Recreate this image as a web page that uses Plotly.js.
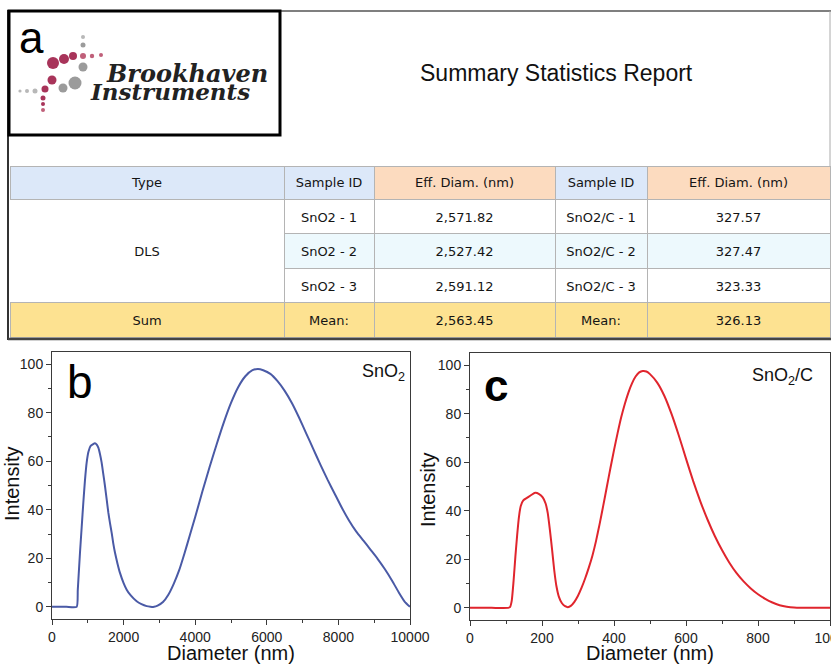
<!DOCTYPE html>
<html>
<head>
<meta charset="utf-8">
<script src="https://cdn.plot.ly/plotly-3.0.1.min.js"></script>
<style>html,body{margin:0;padding:0;background:#fff;}#chart{width:831px;height:664px;}</style>
</head>
<body>
<div id="chart"></div>
<script>
// ---------------- data ----------------
const reportTitle = 'Summary Statistics Report';
const headerLabels = ['Type', 'Sample ID', 'Eff. Diam. (nm)', 'Sample ID', 'Eff. Diam. (nm)'];
const measurementType = 'DLS';
const sumLabel = 'Sum';
const meanLabel = 'Mean:';
const sampleIdsSnO2 = ['SnO2 - 1', 'SnO2 - 2', 'SnO2 - 3'];
const effDiamSnO2 = [2571.82, 2527.42, 2591.12];
const meanSnO2 = 2563.45;
const sampleIdsSnO2C = ['SnO2/C - 1', 'SnO2/C - 2', 'SnO2/C - 3'];
const effDiamSnO2C = [327.57, 327.47, 323.33];
const meanSnO2C = 326.13;
const xTitle = 'Diameter (nm)';
const yTitle = 'Intensity';

// DLS intensity distribution, SnO2 (panel b)
const diamSnO2 = [0, 400, 690, 720, 782, 830, 875, 920, 968, 1020, 1080, 1200, 1250, 1294, 1340, 1387, 1430, 1480, 1530, 1574, 1620, 1667, 1710, 1760, 1830, 1899, 2000, 2086, 2200, 2365, 2500, 2645, 2750, 2850, 2950, 3100, 3250, 3400, 3550, 3700, 3850, 4000, 4200, 4400, 4600, 4800, 5000, 5200, 5400, 5600, 5750, 5900, 6100, 6300, 6500, 6700, 6900, 7100, 7300, 7500, 7700, 7900, 8100, 8300, 8500, 8700, 8900, 9100, 9300, 9500, 9700, 9850, 10000];
const intSnO2  = [0, 0, 0, 7, 22.4, 33, 43, 52, 59.4, 64, 66.3, 67.4, 66.8, 65.6, 63, 59.4, 55, 49.8, 44, 38.8, 34.5, 30.5, 26.3, 22.3, 17.8, 14, 9.8, 7.1, 4.7, 2.3, 1.1, 0.3, 0.05, 0, 0.5, 2, 5, 9.5, 15, 22, 29.5, 37, 47.5, 57.5, 67, 76, 84, 90.5, 95, 97.5, 98, 97.5, 96, 93, 89, 84, 78, 71.5, 65, 58.5, 52.3, 46.5, 40.7, 35.5, 31, 27.3, 23.5, 19.7, 15.5, 10.8, 5.6, 2.2, 0];

// DLS intensity distribution, SnO2/C (panel c)
const diamSnO2C = [0, 60, 106, 111, 116, 121, 126, 131, 136, 141, 148, 158, 170, 181, 192, 202, 210, 216, 222, 228, 234, 240, 247, 255, 264, 272, 280, 290, 300, 310, 320, 330, 340, 350, 360, 370, 380, 390, 400, 410, 420, 430, 440, 450, 460, 470, 480, 490, 500, 520, 540, 560, 580, 600, 620, 640, 660, 680, 700, 720, 740, 760, 780, 800, 820, 840, 860, 880, 900, 920, 960, 1000];
const intSnO2C  = [0, 0, 0, 0.3, 3, 11, 21, 30, 37.5, 42, 44.3, 45.3, 46.5, 47.4, 46.9, 45.5, 43, 39, 32, 24, 15.5, 9, 4.5, 2, 0.7, 0.3, 0.8, 2.5, 5, 8.3, 12.2, 16.6, 21.5, 27.5, 34.5, 42, 49.8, 57.5, 65, 72, 78.5, 84, 88.7, 92.5, 95.3, 97, 97.6, 97.4, 96.3, 92.8, 87.3, 79.8, 71, 61.5, 52.2, 43.8, 36.3, 29.6, 23.8, 18.7, 14.4, 10.9, 8, 5.6, 3.7, 2.2, 1.1, 0.45, 0.1, 0, 0, 0];

// ---------------- helpers ----------------
const W = 831, H = 664;
const PX = x => x / W;
const PY = y => 1 - y / H;
function fmt(v) { return v.toLocaleString('en-US', {minimumFractionDigits: 2, maximumFractionDigits: 2}); }

// ---------------- table ----------------
const cBlue = '#dce8f9', cPeach = '#fcdbbf', cGold = '#fde291', cCyan = '#edf9fd', cWhite = '#ffffff', cGrid = '#b4b4b4';
const clear = 'rgba(0,0,0,0)';
const colType = ['', measurementType, '', sumLabel];
const colIdA = sampleIdsSnO2.concat([meanLabel]);
const colDA = effDiamSnO2.map(fmt).concat([fmt(meanSnO2)]);
const colIdB = sampleIdsSnO2C.concat([meanLabel]);
const colDB = effDiamSnO2C.map(fmt).concat([fmt(meanSnO2C)]);
const tableValues = [colType, colIdA, colDA, colIdB, colDB];
const rowFill = [cWhite, cCyan, cWhite, cGold];
const cellFill = [[cWhite, cWhite, cWhite, cGold], rowFill, rowFill, rowFill, rowFill];
const cellLine = [[cWhite, cWhite, cWhite, cGrid], cGrid, cGrid, cGrid, cGrid];
const colWidths = [274, 90, 181, 92, 183];
const tableFont = {family: 'DejaVu Sans, Verdana, sans-serif', size: 13, color: '#141414'};

// grid + fills
const tableGrid = {
  type: 'table',
  domain: {x: [PX(10), PX(830)], y: [PY(341), PY(166)]},
  columnwidth: colWidths,
  header: {
    values: headerLabels.map(() => ''),
    fill: {color: [cBlue, cBlue, cPeach, cBlue, cPeach]},
    line: {color: cGrid, width: 1}, font: tableFont, height: 33
  },
  cells: {
    values: tableValues.map(col => col.map(() => '')),
    fill: {color: cellFill},
    line: {color: cellLine, width: 1}, font: tableFont, height: 34.5
  }
};
// text layer (vertically centred in the cells)
const tableText = {
  type: 'table',
  domain: {x: [PX(10), PX(830)], y: [PY(344), PY(169)]},
  columnwidth: colWidths,
  header: {
    values: headerLabels,
    fill: {color: clear}, line: {color: clear, width: 0},
    font: tableFont, align: 'center', height: 35
  },
  cells: {
    values: tableValues,
    fill: {color: clear}, line: {color: clear, width: 0},
    font: tableFont, align: 'center', height: 34.5
  }
};

// ---------------- curves ----------------
const traceB = {
  type: 'scatter', mode: 'lines', x: diamSnO2, y: intSnO2,
  line: {color: '#4a5aa6', width: 2, shape: 'spline', smoothing: 0.5},
  xaxis: 'x', yaxis: 'y', showlegend: false, hoverinfo: 'skip'
};
const traceC = {
  type: 'scatter', mode: 'lines', x: diamSnO2C, y: intSnO2C,
  line: {color: '#e0252d', width: 2, shape: 'spline', smoothing: 0.5},
  xaxis: 'x2', yaxis: 'y2', showlegend: false, hoverinfo: 'skip'
};

const sans = 'Liberation Sans, Arial, sans-serif';
const axFont = {family: sans, size: 14, color: '#222'};
const titleFont = {family: sans, size: 20, color: '#111'};
function xAx(dom, range, dtick, anchor) {
  return {
    domain: dom, range: range, anchor: anchor, dtick: dtick, tick0: 0, tickformat: 'd',
    ticklabeloverflow: 'allow',
    showline: true, mirror: true, linecolor: '#3a3a3a', linewidth: 1,
    ticks: 'outside', ticklen: 5, tickcolor: '#3a3a3a', tickwidth: 1,
    minor: {ticks: 'outside', ticklen: 3, dtick: dtick / 2, tickcolor: '#3a3a3a'},
    showgrid: false, zeroline: false, tickfont: axFont,
    title: {text: xTitle, font: titleFont, standoff: 2}
  };
}
function yAx(dom, anchor) {
  return {
    domain: dom, range: [-5, 105], anchor: anchor, dtick: 20, tick0: 0,
    showline: true, mirror: true, linecolor: '#3a3a3a', linewidth: 1,
    ticks: 'outside', ticklen: 5, tickcolor: '#3a3a3a', tickwidth: 1,
    minor: {ticks: 'outside', ticklen: 3, dtick: 10, tickcolor: '#3a3a3a'},
    showgrid: false, zeroline: false, tickfont: axFont
  };
}

// ---------------- decoration (frame + logo) ----------------
const shapes = [
  {type: 'line', xref: 'paper', yref: 'paper', x0: PX(280), x1: PX(831), y0: PY(11), y1: PY(11), line: {color: '#555', width: 1.5}},
  {type: 'line', xref: 'paper', yref: 'paper', x0: PX(830), x1: PX(830), y0: PY(11), y1: PY(166), line: {color: '#aaa', width: 1}},
  {type: 'line', xref: 'paper', yref: 'paper', x0: PX(8), x1: PX(8), y0: PY(10), y1: PY(340), line: {color: '#333', width: 2}},
  {type: 'line', xref: 'paper', yref: 'paper', x0: PX(8), x1: PX(831), y0: PY(339), y1: PY(339), line: {color: '#444', width: 2.5}},
  {type: 'rect', xref: 'paper', yref: 'paper', x0: PX(9), x1: PX(280), y0: PY(11), y1: PY(135), line: {color: '#000', width: 3}}
];
const pink = '#a8345a', pinkL = '#c0607a', grey = '#9b9b9b', greyL = '#b8b8b8';
const dots = [
  [83, 37, 2, greyL], [83, 45, 2.5, grey], [53, 63, 6, pink], [64, 59, 5, pink], [73, 56, 4, pink],
  [83, 56, 3, pinkL], [92, 56, 2.2, pinkL], [101, 55, 2, pinkL], [83, 67, 4.5, grey], [75, 83, 6.5, grey],
  [63, 88, 4.5, grey], [52, 80, 4.5, pink], [45, 89, 3.5, pink], [35, 91, 2.5, greyL], [27, 91, 2, greyL],
  [20, 91, 1.6, greyL], [43, 98, 2.5, pink], [43, 104, 2, pink], [43, 110, 2, pinkL]
];
dots.forEach(d => shapes.push({type: 'circle', xref: 'paper', yref: 'paper',
  x0: PX(d[0] - d[2]), x1: PX(d[0] + d[2]), y0: PY(d[1] + d[2]), y1: PY(d[1] - d[2]),
  fillcolor: d[3], line: {width: 0}}));

const annotations = [
  {text: 'a', x: PX(17), y: PY(37), xanchor: 'left', yanchor: 'middle', font: {family: sans, size: 44, color: '#000'}},
  {text: '<i><b>Brookhaven</b></i>', x: PX(104), y: PY(73), xanchor: 'left', yanchor: 'middle', font: {family: 'DejaVu Serif, serif', size: 24, color: '#222'}},
  {text: '<i><b>Instruments</b></i>', x: PX(88), y: PY(92), xanchor: 'left', yanchor: 'middle', font: {family: 'DejaVu Serif, serif', size: 23, color: '#222'}},
  {text: reportTitle, x: PX(556), y: PY(73), xanchor: 'center', yanchor: 'middle', font: {family: sans, size: 23, color: '#111'}},
  {text: 'b', x: PX(65), y: PY(382), xanchor: 'left', yanchor: 'middle', font: {family: sans, size: 46, color: '#000'}},
  {text: '<b>c</b>', x: PX(482), y: PY(385), xanchor: 'left', yanchor: 'middle', font: {family: sans, size: 44, color: '#000'}},
  {text: 'SnO<sub>2</sub>', x: PX(407), y: PY(372), xanchor: 'right', yanchor: 'middle', font: {family: sans, size: 18, color: '#111'}},
  {text: 'SnO<sub>2</sub>/C', x: PX(815), y: PY(376), xanchor: 'right', yanchor: 'middle', font: {family: sans, size: 18, color: '#111'}},
  {text: yTitle, textangle: -90, x: PX(12), y: PY(484), xanchor: 'center', yanchor: 'middle', font: titleFont},
  {text: yTitle, textangle: -90, x: PX(428), y: PY(490), xanchor: 'center', yanchor: 'middle', font: titleFont}
].map(a => Object.assign({xref: 'paper', yref: 'paper', showarrow: false}, a));

const layout = {
  width: W, height: H, margin: {l: 0, r: 0, t: 0, b: 0},
  paper_bgcolor: '#fff', plot_bgcolor: '#fff', showlegend: false,
  xaxis: xAx([PX(52), PX(410)], [0, 10000], 2000, 'y'),
  yaxis: yAx([PY(619), PY(352)], 'x'),
  xaxis2: xAx([PX(470), PX(830)], [0, 1000], 200, 'y2'),
  yaxis2: yAx([PY(620), PY(353)], 'x2'),
  shapes: shapes, annotations: annotations
};

Plotly.newPlot('chart', [tableGrid, tableText, traceB, traceC], layout, {staticPlot: true, displayModeBar: false});
</script>
</body>
</html>
